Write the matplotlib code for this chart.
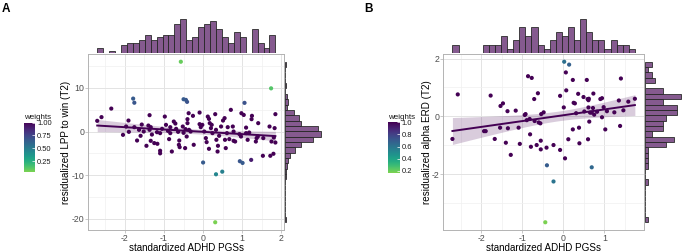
"""Weighted regression of residualized EEG measures on ADHD PGS, with marginal histograms."""
import numpy as np
import matplotlib.pyplot as plt
from matplotlib import colormaps
from matplotlib.colors import ListedColormap, Normalize
from matplotlib.cm import ScalarMappable

plt.rcParams["font.family"] = ["Liberation Sans", "DejaVu Sans"]
plt.rcParams["axes.unicode_minus"] = False

# ---------------------------------------------------------------------------
# data
# ---------------------------------------------------------------------------
# panel A: points with weight ~1 (dark purple)
a_x = [-2.71, -2.60, -2.35, -1.91, -1.37, -0.98, -2.05, -1.97, -1.90, -1.76,
       -1.69, -1.64, -1.60, -1.57, -1.52, -1.45, -1.40, -1.37, -1.34, -1.31,
       -1.34, -1.25, -1.17, -1.10, -1.10, -1.18, -1.10, -1.05, -0.95, -0.90,
       -0.84, -0.84, -0.87, -0.75, -0.71, -0.69, -0.64, -0.61, -0.62, -0.60,
       -0.52, -0.50, -0.45, -0.40, -0.80, -0.46,
       -0.37, -0.26, -0.09, -0.40, -0.36, -0.32, -0.42, -0.24, -0.09, -0.06,
       -0.02, 0.03, 0.07, 0.09, 0.12, 0.15, 0.17, 0.20, 0.24, 0.22,
       0.31, 0.33, 0.34, 0.37, 0.38, 0.41, 0.46, 0.51, 0.55, 0.56,
       0.58, 0.61, 0.63, 0.67, 0.71, 0.76, 0.78, 0.82, 0.93, 0.97,
       0.98, 1.04, 1.25, 1.24, 1.41, 1.37, 1.35, 1.40, 1.54, 1.53,
       1.72, 1.80, 1.75, 1.81, 1.85, 1.83, 1.10, 1.18, 1.10, 1.70,
       0.15, 0.78, 1.14, 1.85]
a_y = [2.45, 3.30, 5.26, 2.52, 3.75, 3.43, -0.76, 1.15, -0.07, 1.00,
       -2.06, 0.39, -0.98, 1.60, 0.00, -3.27, 1.37, 0.39, 1.00, -0.69,
       -2.13, -2.65, -2.81, -4.40, -5.00, -0.15, -0.37, 0.62, 1.53, 0.16,
       1.00, -0.37, -1.74, 2.29, 1.83, 0.62, -0.07, -2.06, -3.04, -3.58,
       1.15, -0.30, 0.55, 2.83, -4.58, -3.80,
       4.20, 3.60, 4.35, 1.92, 0.39, 0.00, -1.14, -3.04, 1.69, 1.00,
       1.53, 0.00, -1.51, -2.43, 3.43, 2.90, 1.92, 0.78, -0.37, 1.53,
       3.98, 0.39, -1.90, -4.58, -3.27, -0.98, 1.15, 2.52, 3.07, -1.90,
       -3.80, -0.37, 1.00, -1.74, 4.97, 1.15, 0.00, -2.29, -0.60, -1.14,
       4.20, 3.80, 3.60, 2.83, 1.92, -1.51, -2.29, -1.14, -1.51, -5.56,
       -5.56, -5.10, -2.29, -1.37, 3.98, 0.78, -0.37, -0.23, 0.90, 1.15,
       -3.96, -2.13, -1.90, -2.52]
# panel A: down-weighted points
a_out_x = [-0.57, 1.74, -1.79, -1.76, -0.50, -0.44, -0.41, 1.06, 0.00, 0.94,
           1.01, 0.33, 0.49, 0.31, 1.23]
a_out_y = [16.0, 9.9, 7.55, 6.6, 7.4, 7.25, 6.8, 6.57, -7.1, -6.8,
           -7.2, -9.8, -9.2, -20.8, -6.5]
a_out_w = [0.08, 0.12, 0.66, 0.68, 0.66, 0.68, 0.70, 0.70, 0.66, 0.68,
           0.66, 0.45, 0.48, 0.04, 0.90]
a_wrange = (0.04, 1.0)
a_cbar_ticks = [0.25, 0.50, 0.75, 1.00]
a_cbar_labels = ["0.25", "0.50", "0.75", "1.00"]
# marginal histogram counts (30 bins across the data range)
a_top_counts = [2, 0, 1, 0, 3, 4, 4, 5, 7, 5, 6, 7, 7, 11, 13, 5, 6, 10, 11, 12,
                9, 6, 4, 8, 6, 0, 9, 4, 2, 7]
a_right_counts = [1, 0, 0, 0, 0, 0, 0, 0, 1, 1, 2, 3, 4, 9, 14, 24, 31, 28, 14, 12,
                  8, 2, 3, 2, 0, 1, 0, 0, 0, 1]

# panel B
b_x = [-2.70, -2.57, -1.93, -1.89, -1.77, -1.67, -1.53, -1.47, -1.54, -1.40,
       -1.36, -1.35, -1.28, -1.16, -1.09, -1.06, -0.94, -0.92, -0.89, -0.86,
       -0.77, -0.82, -0.81, -0.79, -0.71, -0.62, -0.65, -0.60, -0.56, -0.55,
       -0.55, -0.54, -0.48, -0.41, -0.24, -0.08, -0.08, 0.01, 0.06, 0.07,
       0.04, 0.12, 0.23, 0.23, 0.25, 0.28, 0.31, 0.36, 0.38, 0.39,
       0.49, 0.57, 0.59, 0.61, 0.62, 0.61, 0.60, 0.63, 0.65, 0.69,
       0.73, 0.82, 0.90, 0.94, 0.94, 0.98, 1.02, 1.06, 1.24, 1.35,
       1.40, 1.38, 1.46, 1.58, 1.74, -0.70, 0.72, 0.51, 0.75]
b_y = [-0.78, 0.76, -0.51, -0.51, 0.72, -0.78, 0.36, 0.45, -0.39, -0.91,
       0.18, -0.41, -1.33, 0.20, -0.39, -0.95, 0.05, 0.08, -0.13, 1.39,
       1.33, -0.09, -0.62, -1.05, 0.60, 0.80, -0.99, -0.21, -0.24, -0.84,
       -1.14, 0.08, 0.14, -1.08, -0.99, -1.16, 0.71, 0.31, 1.52, 0.90,
       -1.45, -0.79, -0.45, 1.26, 0.47, 0.45, 0.11, 0.78, -0.39, -0.93,
       0.67, 1.26, 0.60, 0.56, 0.61, 0.31, -0.79, -0.18, 0.13, 0.13,
       0.79, 0.16, 0.60, 0.63, -0.03, 0.32, -0.45, 0.18, 0.14, 0.55,
       1.31, -0.33, 0.21, 0.51, 0.61, -0.16, 0.29, 0.17, 0.06]
b_out_x = [0.02, 0.14, -0.40, -0.24, 0.69, -0.44]
b_out_y = [1.89, 1.79, -1.69, -2.25, -1.76, -3.66]
b_out_w = [0.62, 0.68, 0.70, 0.60, 0.65, 0.17]
b_wrange = (0.17, 1.0)
b_cbar_ticks = [0.2, 0.4, 0.6, 0.8, 1.0]
b_cbar_labels = ["0.2", "0.4", "0.6", "0.8", "1.0"]
b_top_counts = [2, 0, 0, 0, 0, 2, 2, 2, 4, 1, 3, 6, 4, 6, 2, 1, 3, 5, 4, 6,
                3, 8, 5, 3, 3, 1, 3, 2, 2, 1]
b_right_counts = [1, 0, 0, 0, 0, 0, 0, 1, 0, 0, 1, 1, 1, 1, 6, 8, 2, 5, 5, 6,
                  9, 9, 5, 10, 5, 0, 3, 2, 1, 2]

# ---------------------------------------------------------------------------
W, H = 685, 252
fig = plt.figure(figsize=(W / 100, H / 100), dpi=100)

PURPLE = "#440154"
vir = colormaps["viridis"]
CMAP = ListedColormap(vir(np.linspace(0.8, 0.0, 256)))
GRID = "#E3E3E3"
GRID_MINOR = "#F0F0F0"


def px_axes(left, top, w, h):
    return fig.add_axes([left / W, 1 - (top + h) / H, w / W, h / H])


def wls_band(x, y, w, xs, t=1.98):
    X = np.column_stack([np.ones_like(x), x])
    XtWX = X.T @ (w[:, None] * X)
    beta = np.linalg.solve(XtWX, X.T @ (w * y))
    resid = y - X @ beta
    sigma2 = np.sum(w * resid ** 2) / (len(x) - 2)
    cov = sigma2 * np.linalg.inv(XtWX)
    Xs = np.column_stack([np.ones_like(xs), xs])
    fit = Xs @ beta
    se = np.sqrt(np.sum((Xs @ cov) * Xs, axis=1))
    return fit, fit - t * se, fit + t * se


def expand(v):
    lo, hi = np.min(v), np.max(v)
    pad = 0.05 * (hi - lo)
    return lo - pad, hi + pad


def panel(box, x, y, w, wrange, top_counts, right_counts, xmajor, ymajor,
          xminor, yminor, ylabel, cbar_box, cbar_ticks, cbar_labels, letter,
          letter_xy, ylabel_x):
    left, top, width, height = box
    ax = px_axes(left, top, width, height)
    xlim, ylim = expand(x), expand(y)
    norm = Normalize(*wrange)

    ax.set_xticks(xmajor)
    ax.set_yticks(ymajor)
    ax.set_xticks(xminor, minor=True)
    ax.set_yticks(yminor, minor=True)
    ax.grid(True, which="major", color=GRID, lw=0.7)
    ax.grid(True, which="minor", color=GRID_MINOR, lw=0.5)
    ax.set_axisbelow(True)

    order = np.argsort(-w)
    ax.scatter(x[order], y[order], c=w[order], cmap=CMAP, norm=norm, s=9,
               linewidths=0, zorder=3)

    xs = np.linspace(x.min(), x.max(), 100)
    fit, lo, hi = wls_band(x, y, w, xs)
    ax.fill_between(xs, lo, hi, color=PURPLE, alpha=0.2, lw=0, zorder=2)
    ax.plot(xs, fit, color=PURPLE, lw=1.4, zorder=4)

    ax.set_xlim(xlim)
    ax.set_ylim(ylim)
    ax.set_xticklabels([f"{v:g}" for v in xmajor])
    ax.set_yticklabels([f"{v:g}" for v in ymajor])
    ax.tick_params(which="major", labelsize=6.3, labelcolor="#4D4D4D",
                   color="#B3B3B3", length=2.2, width=0.5, pad=0.6)
    ax.tick_params(which="minor", length=0)
    for sp in ax.spines.values():
        sp.set_color("#B3B3B3")
        sp.set_linewidth(0.7)

    # marginal histograms
    hist_fc = (0x44 / 255, 0x01 / 255, 0x54 / 255, 0.65)
    xedges = np.linspace(x.min(), x.max(), len(top_counts) + 1)
    axt = px_axes(left, 17, width, top - 17.4)
    axt.bar(xedges[:-1], top_counts, width=np.diff(xedges), align="edge",
            facecolor=hist_fc, edgecolor="#2B2B2B", lw=0.6)
    axt.set_xlim(xlim)
    axt.set_ylim(0, max(top_counts) * 1.05)
    axt.axis("off")

    yedges = np.linspace(y.min(), y.max(), len(right_counts) + 1)
    axr = px_axes(left + width + 0.6, top, 38, height)
    axr.barh(yedges[:-1], right_counts, height=np.diff(yedges), align="edge",
             facecolor=hist_fc, edgecolor="#2B2B2B", lw=0.6)
    axr.set_ylim(ylim)
    axr.set_xlim(0, max(right_counts) * 1.05)
    axr.axis("off")

    # colour bar legend
    cax = px_axes(*cbar_box)
    cb = fig.colorbar(ScalarMappable(norm=norm, cmap=CMAP), cax=cax)
    cb.outline.set_visible(False)
    cb.set_ticks(cbar_ticks)
    cb.set_ticklabels(cbar_labels)
    cax.tick_params(labelsize=5.4, labelcolor="#1A1A1A", color="white",
                    direction="in", length=2.2, width=0.5, pad=1.5)
    fig.text(cbar_box[0] / W, 1 - 120.5 / H, "weights", fontsize=5.8,
             ha="left", va="bottom", color="#1A1A1A")

    # axis titles
    fig.text((left + width / 2) / W, 1 - 248.2 / H, "standardized ADHD PGSs",
             fontsize=7.1, ha="center", va="center")
    fig.text(ylabel_x / W, 1 - (top + height / 2) / H, ylabel, fontsize=7.1,
             rotation=90, ha="center", va="center")
    fig.text(letter_xy[0] / W, 1 - letter_xy[1] / H, letter, fontsize=8.5,
             fontweight="bold", ha="left", va="top")


ax_all = np.array(a_x + a_out_x)
ay_all = np.array(a_y + a_out_y)
aw_all = np.array([1.0] * len(a_x) + a_out_w)
panel((88.3, 53.7, 196, 176.6), ax_all, ay_all, aw_all, a_wrange,
      a_top_counts, a_right_counts,
      [-2, -1, 0, 1, 2], [-20, -10, 0, 10],
      [-2.5, -1.5, -0.5, 0.5, 1.5], [-15, -5, 5, 15],
      "residualized LPP to win (T2)", (24, 122.5, 11, 49.5),
      a_cbar_ticks, a_cbar_labels, "A", (2, 3.5), 66)

bx_all = np.array(b_x + b_out_x)
by_all = np.array(b_y + b_out_y)
bw_all = np.array([1.0] * len(b_x) + b_out_w)
panel((443.3, 53.7, 200.7, 176.6), bx_all, by_all, bw_all, b_wrange,
      b_top_counts, b_right_counts,
      [-2, -1, 0, 1], [-2, 0, 2],
      [-2.5, -1.5, -0.5, 0.5, 1.5], [-3, -1, 1],
      "residualized alpha ERD (T2)", (388, 122.3, 11.5, 50.3),
      b_cbar_ticks, b_cbar_labels, "B", (364.5, 3), 427)

fig.savefig("out.png", dpi=100)
